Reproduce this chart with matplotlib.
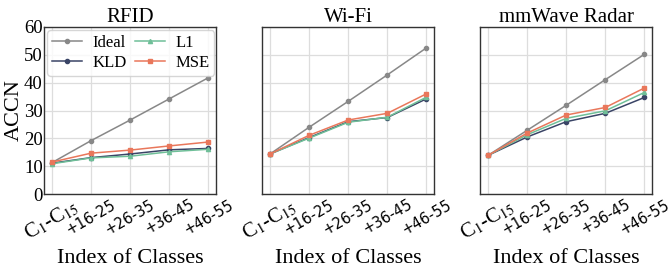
import matplotlib
matplotlib.use("Agg")
import matplotlib.pyplot as plt

plt.rcParams["font.family"] = ["Liberation Serif", "DejaVu Serif"]
plt.rcParams["mathtext.fontset"] = "stix"

categories = ["C$_1$-C$_{15}$", "+16-25", "+26-35", "+36-45", "+46-55"]
titles = ["RFID", "Wi-Fi", "mmWave Radar"]

ideal = [
    [11.3, 19.2, 26.6, 34.2, 41.8],
    [14.4, 24.0, 33.3, 42.8, 52.5],
    [13.9, 22.9, 31.9, 41.1, 50.2],
]
kld = [
    [11.1, 13.1, 14.4, 15.9, 16.4],
    [14.4, 20.3, 26.0, 27.5, 34.2],
    [13.9, 20.5, 26.0, 29.0, 34.7],
]
l1 = [
    [10.9, 13.0, 13.6, 15.2, 16.1],
    [14.4, 20.1, 25.8, 27.6, 34.8],
    [13.9, 21.3, 27.2, 29.9, 36.5],
]
mse = [
    [11.5, 14.7, 15.8, 17.3, 18.7],
    [14.4, 21.1, 26.6, 29.0, 36.0],
    [13.9, 21.9, 28.4, 31.1, 38.1],
]

c_ideal = "#888888"
c_kld = "#3a4466"
c_l1 = "#6fbf98"
c_mse = "#e9775b"

fig, axes = plt.subplots(1, 3, figsize=(6.69, 2.67), dpi=100)
fig.subplots_adjust(left=0.066, right=0.975, top=0.899, bottom=0.273, wspace=0.267)

x = list(range(len(categories)))
for i, ax in enumerate(axes):
    ax.plot(x, ideal[i], color=c_ideal, marker="o", ms=3, lw=1.1, label="Ideal")
    ax.plot(x, kld[i], color=c_kld, marker="o", ms=3, lw=1.1, label="KLD")
    ax.plot(x, l1[i], color=c_l1, marker="^", ms=3, lw=1.1, label="L1")
    ax.plot(x, mse[i], color=c_mse, marker="s", ms=3, lw=1.1, label="MSE")
    ax.set_ylim(0, 60)
    ax.set_yticks(range(0, 61, 10))
    ax.set_xlim(-0.2, 4.2)
    ax.set_xticks(x)
    ax.set_xticklabels(categories, rotation=30, ha="center")
    for j, lab in enumerate(ax.get_xticklabels()):
        if j == 0:
            lab.set_fontsize(15)
        else:
            lab.set_family("DejaVu Sans")
            lab.set_fontsize(10.5)
    ax.tick_params(axis="x", pad=2, length=0)
    ax.tick_params(axis="y", labelsize=13.5, length=0, pad=1)
    ax.grid(True, color="#dddddd", lw=0.9)
    ax.set_axisbelow(True)
    for s in ax.spines.values():
        s.set_color("#333333")
        s.set_linewidth(1.0)
    ax.set_title(titles[i], fontsize=15, pad=3)
    ax.set_xlabel("Index of Classes", fontsize=16, labelpad=3)
    if i == 0:
        ax.set_ylabel("ACCN", fontsize=16, labelpad=0)
        ax.legend(ncol=2, loc="upper left", fontsize=12, handlelength=1.8,
                  columnspacing=0.5, handletextpad=0.6, borderpad=0.3,
                  labelspacing=0.2, borderaxespad=0.2, framealpha=0.8,
                  fancybox=True)
    else:
        ax.set_yticklabels([])

fig.savefig("out.png", dpi=100)
